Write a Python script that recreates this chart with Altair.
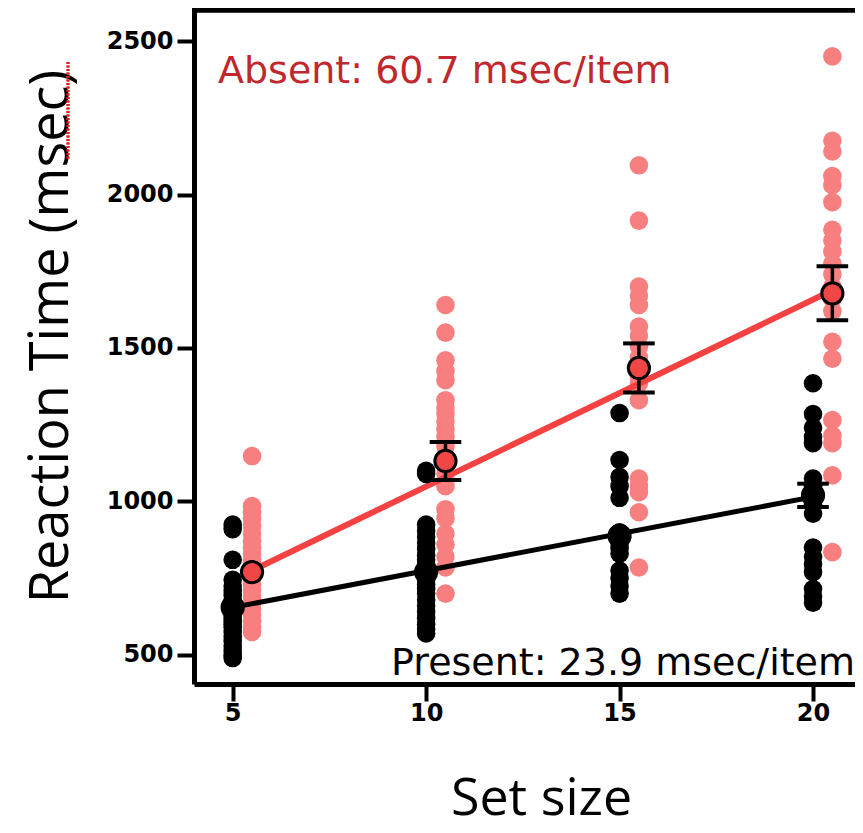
import altair as alt
import pandas as pd

# ---------------- data ----------------
set_sizes = [5, 10, 15, 20]
absent_offset = 0.5

present_5 = [925, 910, 810, 745, 725, 710, 695, 680, 670, 660, 650, 640, 630, 620,
             610, 600, 590, 575, 560, 545, 530, 515, 500, 490]
present_10 = [1100, 1090, 925, 905, 885, 865, 845, 825, 810, 795, 780, 770, 760, 745,
              730, 715, 700, 680, 660, 640, 620, 600, 585, 570]
present_15 = [1288, 1135, 1080, 1050, 1012, 900, 882, 865, 848, 830, 775, 750, 725, 700]
present_20 = [1385, 1285, 1240, 1210, 1190, 1075, 1050, 1030, 1010, 990, 960, 850,
              820, 795, 770, 715, 690, 670]

absent_5 = [1148, 985, 965, 945, 920, 895, 870, 850, 830, 810, 790, 770, 750, 730,
            710, 690, 670, 650, 630, 610, 590, 575]
absent_10 = [1640, 1550, 1460, 1425, 1395, 1330, 1305, 1285, 1260, 1235, 1210, 1180,
             1150, 1120, 1090, 1050, 975, 945, 895, 860, 820, 785, 700]
absent_15 = [2095, 1915, 1700, 1670, 1640, 1570, 1540, 1505, 1470, 1440, 1410, 1385,
             1330, 1075, 1050, 1030, 965, 785]
absent_20 = [2450, 2175, 2140, 2060, 2030, 1975, 1885, 1850, 1815, 1775, 1740, 1700,
             1660, 1620, 1520, 1465, 1265, 1215, 1190, 1085, 835]

# error bars smaller than the symbol are not drawn (err = 0)
present_means = [655, 770, 888, 1020]
present_err = [0, 0, 0, 38]
absent_means = [770, 1132, 1435, 1678]
absent_err = [0, 62, 80, 88]

present_fit_x = [5, 20]
present_fit_y = [655, 1015]
absent_fit_x = [5.5, 20.5]
absent_fit_y = [775, 1688]

ann_text = ["Absent: 60.7 msec/item", "Present: 23.9 msec/item"]
ann_x = [4.62, 21.085]
ann_y = [2363, 435]

x_ticks = [5, 10, 15, 20]
y_ticks = [500, 1000, 1500, 2000, 2500]

# ---------------- tables ----------------
pres_cols = [present_5, present_10, present_15, present_20]
abs_cols = [absent_5, absent_10, absent_15, absent_20]
pres_df = pd.DataFrame([{"x": s, "rt": v} for s, col in zip(set_sizes, pres_cols) for v in col])
abs_df = pd.DataFrame([{"x": s + absent_offset, "rt": v} for s, col in zip(set_sizes, abs_cols) for v in col])

pm_df = pd.DataFrame({"x": set_sizes, "m": present_means, "e": present_err})
am_df = pd.DataFrame({"x": [s + absent_offset for s in set_sizes], "m": absent_means, "e": absent_err})
for d in (pm_df, am_df):
    d["lo"] = d["m"] - d["e"]
    d["hi"] = d["m"] + d["e"]
pm_err_df = pm_df[pm_df["e"] > 0]
am_err_df = am_df[am_df["e"] > 0]

pfit_df = pd.DataFrame({"x": present_fit_x, "y": present_fit_y})
afit_df = pd.DataFrame({"x": absent_fit_x, "y": absent_fit_y})

W, H = 661, 674
xscale = alt.Scale(domain=[4, 21.085], nice=False, zero=False)
yscale = alt.Scale(domain=[405.5, 2601], nice=False, zero=False)

xaxis = alt.Axis(values=x_ticks, format="d", grid=False, domainColor="black", domainWidth=5,
                 tickColor="black", tickWidth=4, tickSize=17,
                 labelFont="DejaVu Sans", labelFontWeight="bold", labelFontSize=24,
                 labelColor="black", labelPadding=0,
                 title="Set size", titleFont="Open Sans", titleFontWeight="normal",
                 titleFontSize=52, titleColor="black", titleX=347, titleY=130,
                 titleAlign="center", titleBaseline="alphabetic")
yaxis = alt.Axis(values=y_ticks, format="d", grid=False, domainColor="black", domainWidth=5,
                 tickColor="black", tickWidth=4, tickSize=17,
                 labelFont="DejaVu Sans", labelFontWeight="bold", labelFontSize=24,
                 labelColor="black", labelPadding=4,
                 title="Reaction Time (msec)", titleFont="Open Sans", titleFontWeight="normal",
                 titleFontSize=54, titleColor="black", titleAngle=270, titleX=-127, titleY=326,
                 titleAlign="center", titleBaseline="alphabetic")

X = alt.X("x:Q", scale=xscale, axis=xaxis)

pink = alt.Chart(abs_df).mark_circle(size=345, opacity=1, color="#f87f7f").encode(
    x=X, y=alt.Y("rt:Q", scale=yscale, axis=yaxis))
black = alt.Chart(pres_df).mark_circle(size=345, opacity=1, color="black").encode(
    x="x:Q", y="rt:Q")

red_line = alt.Chart(afit_df).mark_line(color="#f44242", strokeWidth=6).encode(x="x:Q", y="y:Q")
black_line = alt.Chart(pfit_df).mark_line(color="black", strokeWidth=5).encode(x="x:Q", y="y:Q")

def errbars(df):
    rule = alt.Chart(df).mark_rule(color="black", strokeWidth=3.5).encode(
        x="x:Q", y="lo:Q", y2="hi:Q")
    cap_lo = alt.Chart(df).mark_point(shape="M-1,0L1,0", size=1000, filled=False,
                                      color="black", strokeWidth=4, opacity=1).encode(x="x:Q", y="lo:Q")
    cap_hi = alt.Chart(df).mark_point(shape="M-1,0L1,0", size=1000, filled=False,
                                      color="black", strokeWidth=4, opacity=1).encode(x="x:Q", y="hi:Q")
    return rule + cap_lo + cap_hi

pm_circ = alt.Chart(pm_df).mark_point(shape="circle", filled=True, size=450, fill="black",
                                      stroke="black", strokeWidth=3, opacity=1).encode(x="x:Q", y="m:Q")
am_circ = alt.Chart(am_df).mark_point(shape="circle", filled=True, size=450, fill="#f04646",
                                      stroke="black", strokeWidth=3, opacity=1).encode(x="x:Q", y="m:Q")

ann_df = pd.DataFrame({"t": ann_text, "x": ann_x, "y": ann_y})
ann_abs = alt.Chart(ann_df.iloc[[0]]).mark_text(font="DejaVu Sans", fontSize=38, align="left",
                                               baseline="alphabetic", color="#c0282d").encode(
    x="x:Q", y="y:Q", text="t:N")
ann_pres = alt.Chart(ann_df.iloc[[1]]).mark_text(font="DejaVu Sans", fontSize=38, align="right",
                                                baseline="alphabetic", color="black").encode(
    x="x:Q", y="y:Q", text="t:N")

top_border = alt.Chart(pfit_df).mark_rule(color="black", strokeWidth=5).encode(
    x=alt.value(-2), x2=alt.value(W), y=alt.value(0))
squiggle = alt.Chart(pfit_df).mark_rule(color="#e02020", strokeWidth=3, strokeDash=[2, 1.5]).encode(
    x=alt.value(-126), y=alt.value(52), y2=alt.value(150))

chart = alt.layer(
    pink, red_line, black_line,
    errbars(pm_err_df), pm_circ, black,
    errbars(am_err_df), am_circ,
    ann_abs, ann_pres, top_border, squiggle
).properties(
    width=W, height=H,
    autosize=alt.AutoSizeParams(type="none"),
    padding={"left": 186, "top": 2, "right": 0, "bottom": 148},
    background="white",
).configure_view(stroke=None)

chart.save("out.html", embed_options={"renderer": "svg", "actions": False})
